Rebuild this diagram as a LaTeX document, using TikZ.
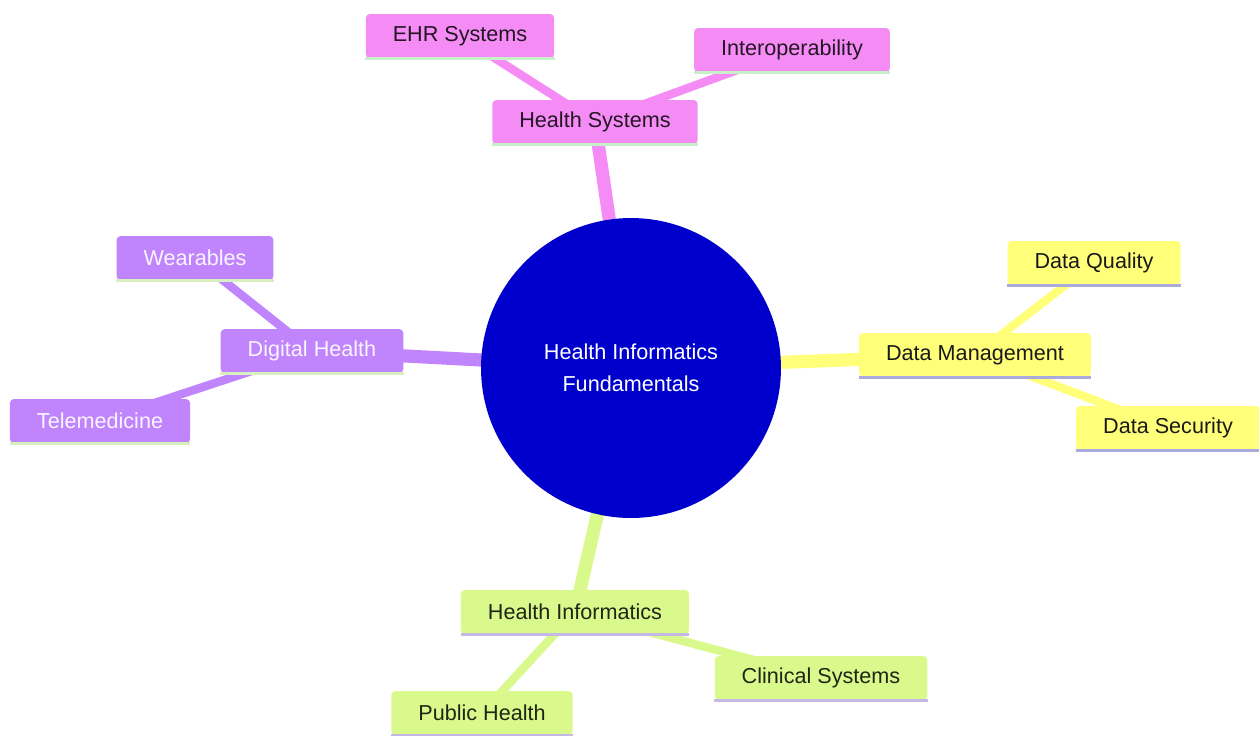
\documentclass[tikz,border=0pt]{standalone}
\usepackage{fontspec}
\setmainfont{Liberation Sans}
\usetikzlibrary{backgrounds}

\definecolor{rootblue}{HTML}{0000CC}
\definecolor{sysfill}{HTML}{F58CF5}
\definecolor{sysline}{HTML}{C8F0C8}
\definecolor{datafill}{HTML}{FFFF7A}
\definecolor{dataline}{HTML}{AAAADC}
\definecolor{infofill}{HTML}{D9F98C}
\definecolor{infoline}{HTML}{C4B8E4}
\definecolor{digifill}{HTML}{C084FC}
\definecolor{digiline}{HTML}{D8F0C0}

\tikzset{
	topic/.style={rectangle, rounded corners=2.3pt, minimum height=0.88cm,
		inner xsep=0.54cm, inner ysep=0pt, font=\fontsize{12.3}{14}\selectfont},
	sys/.style={topic, fill=sysfill, text=black!85!sysfill},
	data/.style={topic, fill=datafill, text=black!90},
	info/.style={topic, fill=infofill, text=black!85!infofill},
	digi/.style={topic, fill=digifill, text=white!92!digifill},
	root/.style={circle, fill=rootblue, text=white, minimum size=6cm,
		align=center, font=\fontsize{12.3}{18.2}\selectfont},
	trunk/.style={line width=7.5pt},
	twig/.style={line width=4.8pt},
	uline/.style={line width=1.7pt}
}

\begin{document}
\begin{tikzpicture}[x=0.02cm, y=-0.02cm]
	\useasboundingbox (0,0) rectangle (1259,735);

	\node[root] (root) at (631,368) {Health Informatics\\Fundamentals};

	\node[sys] (hsys) at (595,122) {Health Systems};
	\node[sys] (ehr) at (460,36) {EHR Systems};
	\node[sys] (interop) at (792,50) {Interoperability};

	\node[data] (dman) at (975,355) {Data Management};
	\node[data] (dqual) at (1094,263) {Data Quality};
	\node[data] (dsec) at (1168,428) {Data Security};

	\node[info] (hinfo) at (575,612) {Health Informatics};
	\node[info] (pubh) at (482,713) {Public Health};
	\node[info] (clin) at (821,678) {Clinical Systems};

	\node[digi] (digh) at (312,351) {Digital Health};
	\node[digi] (wear) at (195,258) {Wearables};
	\node[digi] (tele) at (100,421) {Telemedicine};

	\begin{scope}[on background layer]
		\draw[trunk, sysfill] (root.center) -- (hsys.center);
		\draw[twig, sysfill] (hsys.center) -- (ehr.center);
		\draw[twig, sysfill] (hsys.center) -- (interop.center);

		\draw[trunk, datafill] (root.center) -- (dman.center);
		\draw[twig, datafill] (dman.center) -- (dqual.center);
		\draw[twig, datafill] (dman.center) -- (dsec.center);

		\draw[trunk, infofill] (root.center) -- (hinfo.center);
		\draw[twig, infofill] (hinfo.center) -- (pubh.center);
		\draw[twig, infofill] (hinfo.center) -- (clin.center);

		\draw[trunk, digifill] (root.center) -- (digh.center);
		\draw[twig, digifill] (digh.center) -- (wear.center);
		\draw[twig, digifill] (digh.center) -- (tele.center);
	\end{scope}

	% bottom lines of the boxes
	\foreach \n/\c in {hsys/sysline, ehr/sysline, interop/sysline,
		dman/dataline, dqual/dataline, dsec/dataline,
		hinfo/infoline, pubh/infoline, clin/infoline,
		digh/digiline, wear/digiline, tele/digiline}
		\draw[uline, \c] (\n.south west) -- (\n.south east);
\end{tikzpicture}
\end{document}
